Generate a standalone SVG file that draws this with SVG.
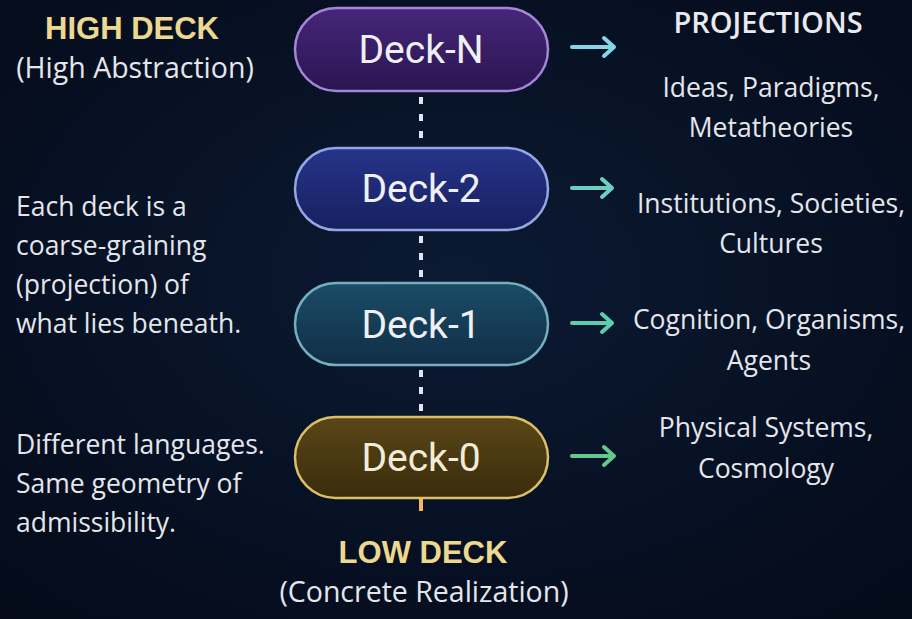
<svg xmlns="http://www.w3.org/2000/svg" width="912" height="619" viewBox="0 0 912 619">
  <defs>
    <radialGradient id="bg" cx="0.5" cy="0.45" r="0.75">
      <stop offset="0" stop-color="#0b1a33"/>
      <stop offset="1" stop-color="#040a18"/>
    </radialGradient>
    <linearGradient id="gN" x1="0" y1="0" x2="0" y2="1">
      <stop offset="0" stop-color="#46267a"/>
      <stop offset="1" stop-color="#2a1550"/>
    </linearGradient>
    <linearGradient id="g2" x1="0" y1="0" x2="0" y2="1">
      <stop offset="0" stop-color="#26348a"/>
      <stop offset="1" stop-color="#17205e"/>
    </linearGradient>
    <linearGradient id="g1" x1="0" y1="0" x2="0" y2="1">
      <stop offset="0" stop-color="#1b4c66"/>
      <stop offset="1" stop-color="#102e46"/>
    </linearGradient>
    <linearGradient id="g0" x1="0" y1="0" x2="0" y2="1">
      <stop offset="0" stop-color="#5a4717"/>
      <stop offset="1" stop-color="#3a2c0c"/>
    </linearGradient>
    <style>
      .pill { stroke-width: 2.5; }
      .deck { font-family: Roboto, "Liberation Sans", sans-serif; font-size: 39px; font-weight: normal; fill: #eef0f6; text-anchor: middle; }
      .gold { font-family: "Liberation Sans", Arial, sans-serif; font-weight: bold; font-size: 31px; fill: #ecd88e; text-anchor: middle; }
      .txt { font-family: "Open Sans", "Liberation Sans", sans-serif; font-size: 26.5px; fill: #e4e6ec; }
      .sub { font-family: "Open Sans", "Liberation Sans", sans-serif; font-size: 28.5px; fill: #e4e6ec; text-anchor: middle; }
      .head { font-family: "Open Sans", "Liberation Sans", sans-serif; font-size: 29px; font-weight: 600; fill: #e8eaf0; text-anchor: middle; }
      .mid { text-anchor: middle; }
      .conn { stroke: #dfe6f2; stroke-width: 4; stroke-dasharray: 7 10; fill: none; }
      .arrow { stroke-width: 4; fill: none; stroke-linecap: round; stroke-linejoin: round; }
    </style>
  </defs>

  <rect width="912" height="619" fill="url(#bg)"/>

  <!-- vertical dotted links between decks -->
  <g id="connectors">
    <line class="conn" x1="421" y1="97" x2="421" y2="146"/>
    <line class="conn" x1="421" y1="236" x2="421" y2="282"/>
    <line class="conn" x1="421" y1="370" x2="421" y2="416"/>
    <line x1="421" y1="499" x2="421" y2="511" stroke="#f0b860" stroke-width="4"/>
    <!-- projection arrows -->
    <g class="arrow">
      <path d="M572,47 H614 M604,38 L614,47 L604,56" stroke="#86d3ea"/>
      <path d="M572,188 H612 M602,179 L612,188 L602,197" stroke="#6ccfc4"/>
      <path d="M572,323 H612 M602,314 L612,323 L602,332" stroke="#5fcbb0"/>
      <path d="M572,456 H614 M604,447 L614,456 L604,465" stroke="#62c98c"/>
    </g>
  </g>

  <g id="deck-n">
    <rect class="pill" x="295" y="8" width="253" height="83" rx="41.5" fill="url(#gN)" stroke="#a585d6"/>
    <text class="deck" x="421" y="63">Deck-N</text>
  </g>
  <g id="deck-2">
    <rect class="pill" x="295" y="148" width="253" height="82" rx="41" fill="url(#g2)" stroke="#95a6e4"/>
    <text class="deck" x="421" y="202">Deck-2</text>
  </g>
  <g id="deck-1">
    <rect class="pill" x="295" y="283" width="253" height="82" rx="41" fill="url(#g1)" stroke="#74aec0"/>
    <text class="deck" x="421" y="338">Deck-1</text>
  </g>
  <g id="deck-0">
    <rect class="pill" x="295" y="417" width="253" height="81" rx="40.5" fill="url(#g0)" stroke="#dcbd68"/>
    <text class="deck" x="421" y="471" style="fill:#f3ecd8">Deck-0</text>
  </g>

  <!-- left column -->
  <g id="high-deck">
    <text class="gold" x="132" y="39">HIGH DECK</text>
    <text class="sub" x="135" y="78">(High Abstraction)</text>
  </g>
  <g id="note-coarse">
    <text class="txt" x="16" y="216">Each deck is a</text>
    <text class="txt" x="16" y="255">coarse-graining</text>
    <text class="txt" x="16" y="294">(projection) of</text>
    <text class="txt" x="16" y="333">what lies beneath.</text>
  </g>
  <g id="note-languages">
    <text class="txt" x="16" y="454">Different languages.</text>
    <text class="txt" x="16" y="493">Same geometry of</text>
    <text class="txt" x="16" y="532">admissibility.</text>
  </g>

  <!-- bottom label -->
  <g id="low-deck">
    <text class="gold" x="423" y="563">LOW DECK</text>
    <text class="sub" x="424" y="602">(Concrete Realization)</text>
  </g>

  <!-- right column -->
  <g id="projections">
    <text class="head" x="768" y="33">PROJECTIONS</text>
    <text class="txt mid" x="771" y="97">Ideas, Paradigms,</text>
    <text class="txt mid" x="771" y="137">Metatheories</text>
    <text class="txt mid" x="771" y="213">Institutions, Societies,</text>
    <text class="txt mid" x="771" y="253">Cultures</text>
    <text class="txt mid" x="769" y="329">Cognition, Organisms,</text>
    <text class="txt mid" x="769" y="370">Agents</text>
    <text class="txt mid" x="766" y="437">Physical Systems,</text>
    <text class="txt mid" x="766" y="478">Cosmology</text>
  </g>
</svg>
